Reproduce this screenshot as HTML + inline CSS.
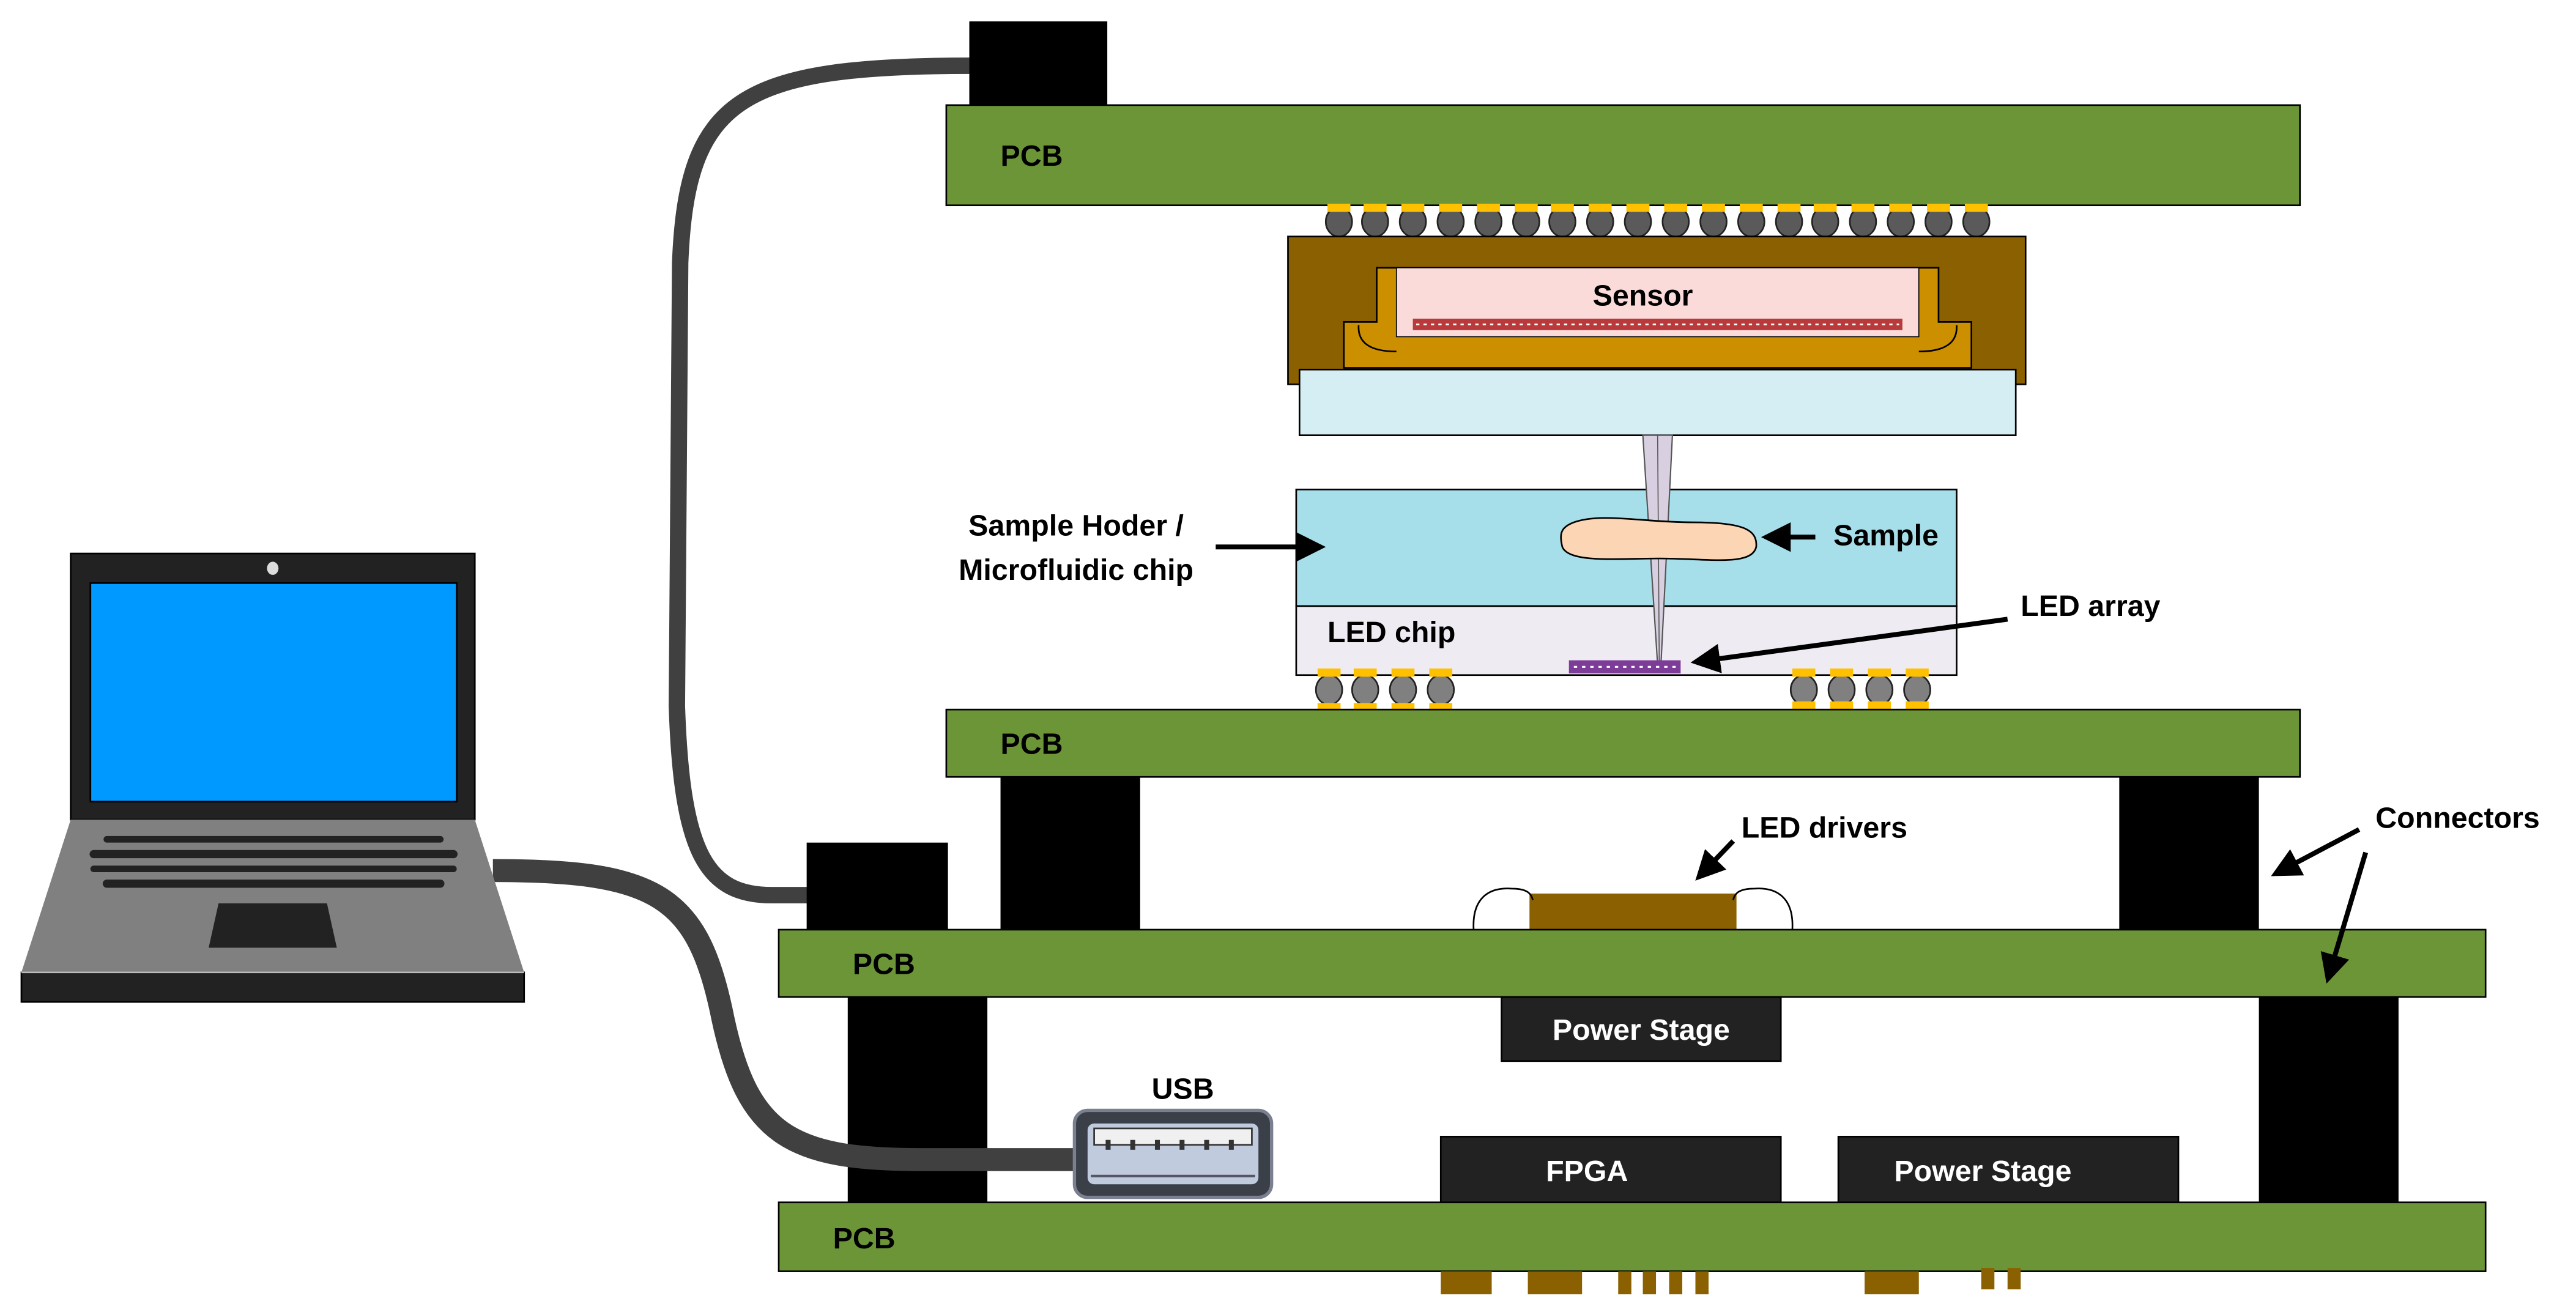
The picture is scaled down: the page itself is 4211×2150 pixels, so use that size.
<!DOCTYPE html>
<html><head><meta charset="utf-8"><style>
html,body{margin:0;padding:0;background:#fff}
svg{display:block}
text{font-family:"Liberation Sans Narrow","Liberation Sans",sans-serif;font-weight:bold;font-size:18px;fill:#000}
</style></head><body>
<svg width="4211" height="2150" viewBox="0 0 1568 800.6" xmlns="http://www.w3.org/2000/svg">
<defs><marker id="ah" markerWidth="6" markerHeight="6" refX="5" refY="3" orient="auto" markerUnits="strokeWidth"><path d="M0,0 L6,3 L0,6 z" fill="#000"/></marker></defs>
<!-- cable 1 -->
<path d="M592,40 C450,40 418,60 414,160 L412,430 C415,520 430,545 470,545 L494,545" fill="none" stroke="#404040" stroke-width="10"/>
<!-- top PCB -->
<rect x="576" y="64" width="824" height="61" fill="#6b9537" stroke="#000" stroke-width="1"/>
<rect x="590" y="13" width="84" height="51" fill="#000"/>
<text x="609" y="101">PCB</text>
<!-- solder balls top -->
<g fill="#5a5a5a" stroke="#222" stroke-width="1">
<ellipse cx="815" cy="135" rx="8" ry="9"/><ellipse cx="837" cy="135" rx="8" ry="9"/><ellipse cx="860" cy="135" rx="8" ry="9"/><ellipse cx="883" cy="135" rx="8" ry="9"/><ellipse cx="906" cy="135" rx="8" ry="9"/><ellipse cx="929" cy="135" rx="8" ry="9"/><ellipse cx="951" cy="135" rx="8" ry="9"/><ellipse cx="974" cy="135" rx="8" ry="9"/><ellipse cx="997" cy="135" rx="8" ry="9"/><ellipse cx="1020" cy="135" rx="8" ry="9"/><ellipse cx="1043" cy="135" rx="8" ry="9"/><ellipse cx="1066" cy="135" rx="8" ry="9"/><ellipse cx="1089" cy="135" rx="8" ry="9"/><ellipse cx="1111" cy="135" rx="8" ry="9"/><ellipse cx="1134" cy="135" rx="8" ry="9"/><ellipse cx="1157" cy="135" rx="8" ry="9"/><ellipse cx="1180" cy="135" rx="8" ry="9"/><ellipse cx="1203" cy="135" rx="8" ry="9"/>
</g>
<g fill="#ffc000">
<rect x="808" y="124" width="14" height="5"/><rect x="830" y="124" width="14" height="5"/><rect x="853" y="124" width="14" height="5"/><rect x="876" y="124" width="14" height="5"/><rect x="899" y="124" width="14" height="5"/><rect x="922" y="124" width="14" height="5"/><rect x="944" y="124" width="14" height="5"/><rect x="967" y="124" width="14" height="5"/><rect x="990" y="124" width="14" height="5"/><rect x="1013" y="124" width="14" height="5"/><rect x="1036" y="124" width="14" height="5"/><rect x="1059" y="124" width="14" height="5"/><rect x="1082" y="124" width="14" height="5"/><rect x="1104" y="124" width="14" height="5"/><rect x="1127" y="124" width="14" height="5"/><rect x="1150" y="124" width="14" height="5"/><rect x="1173" y="124" width="14" height="5"/><rect x="1196" y="124" width="14" height="5"/>
</g>
<!-- package -->
<rect x="784" y="144" width="449" height="90" fill="#8b6000" stroke="#000" stroke-width="1"/>
<path d="M818,224 L818,196 L838,196 L838,163 L1180,163 L1180,196 L1200,196 L1200,224 Z" fill="#cc8f00" stroke="#000" stroke-width="1"/>
<rect x="850" y="163" width="318" height="42" fill="#fadbda" stroke="#000" stroke-width="0.6"/>
<rect x="860" y="194" width="298" height="7" fill="#b83a3a"/>
<line x1="862" y1="197.5" x2="1156" y2="197.5" stroke="#fff" stroke-width="1" stroke-dasharray="2,2.5"/>
<path d="M827,198 Q826,214 850,214 M1191,198 Q1192,214 1168,214" fill="none" stroke="#000" stroke-width="1"/>
<text x="1000" y="186" text-anchor="middle">Sensor</text>
<rect x="791" y="225" width="436" height="40" fill="#d5eef4" stroke="#000" stroke-width="1"/>
<!-- sample holder -->
<rect x="789" y="298" width="402" height="71" fill="#a6dfea" stroke="#000" stroke-width="1"/>
<rect x="789" y="369" width="402" height="42" fill="#efebf3" stroke="#000" stroke-width="1"/>
<text x="808" y="391">LED chip</text>
<!-- needle -->
<path d="M1000,265 L1018,265 L1011,405 L1009,405 Z" fill="#d8d0e0" stroke="#555" stroke-width="0.8"/>
<line x1="1009" y1="265" x2="1010" y2="405" stroke="#555" stroke-width="0.6"/>
<path d="M958,318 C975,312 1000,318 1030,318 C1060,318 1070,322 1069,333 C1066,345 1040,340 1010,340 C985,340 955,343 951,333 C949,325 950,321 958,318 Z" fill="#fcd5b5" stroke="#000" stroke-width="1"/>
<rect x="955" y="402" width="68" height="8" fill="#7d3c98"/>
<line x1="958" y1="406" x2="1020" y2="406" stroke="#fff" stroke-width="1.2" stroke-dasharray="2,3"/>
<!-- bottom balls -->
<g fill="#808080" stroke="#222" stroke-width="1">
<ellipse cx="809" cy="420" rx="8" ry="9"/><ellipse cx="831" cy="420" rx="8" ry="9"/><ellipse cx="854" cy="420" rx="8" ry="9"/><ellipse cx="877" cy="420" rx="8" ry="9"/>
<ellipse cx="1098" cy="420" rx="8" ry="9"/><ellipse cx="1121" cy="420" rx="8" ry="9"/><ellipse cx="1144" cy="420" rx="8" ry="9"/><ellipse cx="1167" cy="420" rx="8" ry="9"/>
</g>
<g fill="#ffc000">
<rect x="802" y="407" width="14" height="5"/><rect x="824" y="407" width="14" height="5"/><rect x="847" y="407" width="14" height="5"/><rect x="870" y="407" width="14" height="5"/>
<rect x="802" y="428" width="14" height="5"/><rect x="824" y="428" width="14" height="5"/><rect x="847" y="428" width="14" height="5"/><rect x="870" y="428" width="14" height="5"/>
<rect x="1091" y="407" width="14" height="5"/><rect x="1114" y="407" width="14" height="5"/><rect x="1137" y="407" width="14" height="5"/><rect x="1160" y="407" width="14" height="5"/>
<rect x="1091" y="427" width="14" height="5"/><rect x="1114" y="427" width="14" height="5"/><rect x="1137" y="427" width="14" height="5"/><rect x="1160" y="427" width="14" height="5"/>
</g>
<!-- PCB2 -->
<rect x="576" y="432" width="824" height="41" fill="#6b9537" stroke="#000" stroke-width="1"/>
<text x="609" y="459">PCB</text>
<rect x="609" y="473" width="85" height="93" fill="#000"/>
<rect x="1290" y="473" width="85" height="93" fill="#000"/>
<rect x="491" y="513" width="86" height="53" fill="#000"/>
<!-- LED drivers -->
<rect x="931" y="544" width="126" height="22" fill="#8b6000"/>
<path d="M897,566 C896,548 905,540 920,541 C928,541 932,543 933,548" fill="none" stroke="#000" stroke-width="1"/>
<path d="M1091,566 C1092,548 1083,540 1068,541 C1060,541 1056,543 1055,548" fill="none" stroke="#000" stroke-width="1"/>
<!-- PCB3 -->
<rect x="474" y="566" width="1039" height="41" fill="#6b9537" stroke="#000" stroke-width="1"/>
<text x="519" y="593">PCB</text>
<rect x="914" y="607" width="170" height="39" fill="#222" stroke="#000"/>
<text x="999" y="633" text-anchor="middle" style="fill:#fff">Power Stage</text>
<rect x="516" y="607" width="85" height="125" fill="#000"/>
<rect x="1375" y="607" width="85" height="126" fill="#000"/>
<!-- cable 2 (over connector) -->
<path d="M300,530 C400,530 425,545 440,620 C455,690 480,706 560,706 L660,706" fill="none" stroke="#404040" stroke-width="14"/>
<!-- USB -->
<rect x="654" y="676" width="120" height="53" rx="8" fill="#3a3f48" stroke="#7a8090" stroke-width="2"/>
<rect x="662" y="684" width="104" height="37" rx="4" fill="#c0ccdd"/>
<rect x="666" y="687" width="96" height="10" fill="#f0f0f0" stroke="#333"/>
<g fill="#333"><rect x="673" y="694" width="3" height="6"/><rect x="688" y="694" width="3" height="6"/><rect x="703" y="694" width="3" height="6"/><rect x="718" y="694" width="3" height="6"/><rect x="733" y="694" width="3" height="6"/><rect x="748" y="694" width="3" height="6"/></g>
<line x1="664" y1="716" x2="764" y2="716" stroke="#556" stroke-width="1.5"/>
<text x="720" y="669" text-anchor="middle">USB</text>
<!-- bottom chips -->
<rect x="877" y="692" width="207" height="40" fill="#222" stroke="#000"/>
<text x="966" y="719" text-anchor="middle" style="fill:#fff">FPGA</text>
<rect x="1119" y="692" width="207" height="40" fill="#222" stroke="#000"/>
<text x="1207" y="719" text-anchor="middle" style="fill:#fff">Power Stage</text>
<!-- PCB4 -->
<rect x="474" y="732" width="1039" height="42" fill="#6b9537" stroke="#000" stroke-width="1"/>
<text x="507" y="760">PCB</text>
<g fill="#8b6000">
<rect x="877" y="774" width="31" height="14"/><rect x="930" y="774" width="33" height="14"/><rect x="985" y="774" width="8" height="14"/><rect x="1000" y="774" width="8" height="14"/><rect x="1016" y="774" width="8" height="14"/><rect x="1032" y="774" width="8" height="14"/><rect x="1135" y="774" width="33" height="14"/><rect x="1206" y="772" width="8" height="13"/><rect x="1222" y="772" width="8" height="13"/>
</g>
<!-- laptop -->
<rect x="43" y="337" width="246" height="162" fill="#222" stroke="#000"/>
<rect x="55" y="355" width="223" height="133" fill="#0099ff" stroke="#000"/>
<ellipse cx="166" cy="346" rx="3.5" ry="4" fill="#ddd"/>
<path d="M43,499 L289,499 L319,592 L13,592 Z" fill="#808080"/>
<rect x="13" y="592" width="306" height="18" fill="#222" stroke="#000"/>
<line x1="13" y1="592" x2="319" y2="592" stroke="#bbb" stroke-width="1"/>
<g stroke="#222" stroke-linecap="round"><line x1="65" y1="511" x2="268" y2="511" stroke-width="4"/><line x1="57" y1="520" x2="276" y2="520" stroke-width="5"/><line x1="57" y1="529" x2="276" y2="529" stroke-width="4"/><line x1="65" y1="538" x2="268" y2="538" stroke-width="5"/></g>
<path d="M133,550 L199,550 L205,577 L127,577 Z" fill="#222"/>
<!-- labels & arrows -->
<text x="655" y="326" text-anchor="middle">Sample Hoder /</text>
<text x="655" y="353" text-anchor="middle">Microfluidic chip</text>
<line x1="740" y1="333" x2="804" y2="333" stroke="#000" stroke-width="3" marker-end="url(#ah)"/>
<text x="1116" y="332">Sample</text>
<line x1="1105" y1="327" x2="1075" y2="327" stroke="#000" stroke-width="3" marker-end="url(#ah)"/>
<text x="1230" y="375">LED array</text>
<line x1="1222" y1="377" x2="1032" y2="403" stroke="#000" stroke-width="3" marker-end="url(#ah)"/>
<text x="1060" y="510">LED drivers</text>
<line x1="1055" y1="512" x2="1034" y2="534" stroke="#000" stroke-width="3" marker-end="url(#ah)"/>
<text x="1446" y="504">Connectors</text>
<line x1="1436" y1="505" x2="1385" y2="532" stroke="#000" stroke-width="3" marker-end="url(#ah)"/>
<line x1="1440" y1="519" x2="1417" y2="596" stroke="#000" stroke-width="3" marker-end="url(#ah)"/>
</svg>
</body></html>
